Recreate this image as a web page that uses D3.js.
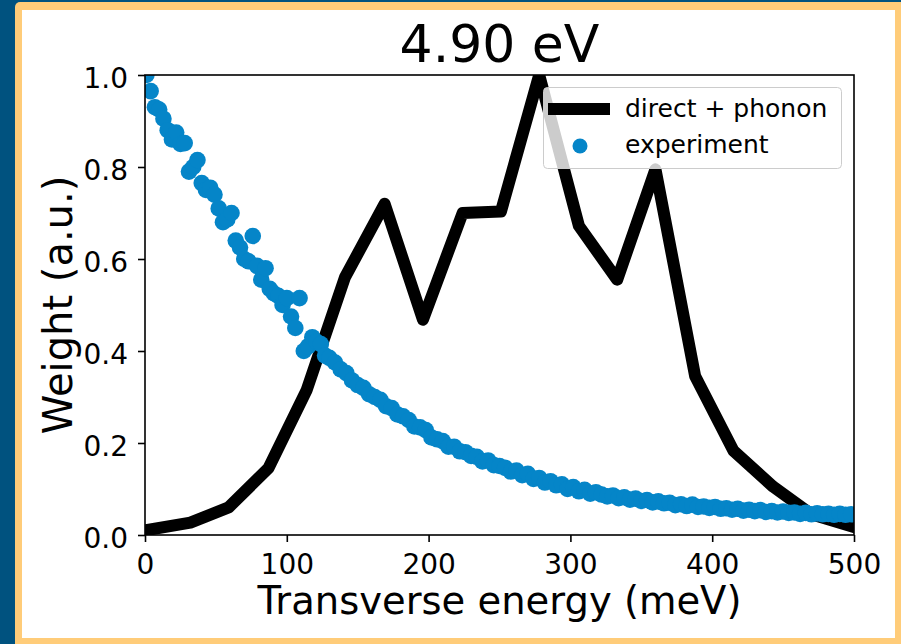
<!DOCTYPE html>
<html>
<head>
<meta charset="utf-8">
<script src="https://cdn.jsdelivr.net/npm/d3@7"></script>
<style>
    body { margin: 0; background: #00527f; }
    text { font-family: "DejaVu Sans", sans-serif; fill: #000; }
</style>
</head>
<body>
<div id="first_fig"></div>
<script>
// Chart data
var titleText = "4.90 eV";
var xLabelText = "Transverse energy (meV)";
var yLabelText = "Weight (a.u.)";
var xTicks = [0, 100, 200, 300, 400, 500];
var yTicks = [0.0, 0.2, 0.4, 0.6, 0.8, 1.0];
var legendNames = ["direct + phonon", "experiment"];

// direct + phonon calculation
var theoryEnergy = [0, 32, 59, 87, 114, 141, 169, 196, 224, 251, 278, 306, 333, 360, 388, 415, 443, 470, 497];
var theoryWeight = [0.010, 0.027, 0.060, 0.145, 0.315, 0.560, 0.720, 0.468, 0.700, 0.703, 1.000, 0.672, 0.555, 0.795, 0.345, 0.183, 0.105, 0.045, 0.020];

// experiment
var expEnergy = [1, 4, 7, 10, 13, 16, 19, 22, 25, 28, 31, 34, 37, 40, 43, 46, 49, 52, 55, 58,
    61, 64, 67, 70, 73, 76, 79, 82, 85, 88, 91, 94, 97, 100, 103, 106, 109, 112, 115, 118,
    121, 124, 127, 130, 134, 138, 142, 146, 150, 154, 158, 162, 166, 170, 174, 178, 182, 186, 190, 194,
    198, 202, 206, 210, 214, 218, 222, 226, 230, 234, 238, 242, 246, 250, 254, 258, 262, 266, 270, 274,
    278, 282, 286, 290, 294, 298, 302, 306, 310, 314, 318, 322, 326, 330, 334, 338, 342, 346, 350, 354,
    358, 362, 366, 370, 374, 378, 382, 386, 390, 394, 398, 402, 406, 410, 414, 418, 422, 426, 430, 434,
    438, 442, 446, 450, 454, 458, 462, 466, 470, 474, 478, 482, 486, 490, 494, 498];
var expWeight = [1.000, 0.965, 0.930, 0.925, 0.905, 0.880, 0.860, 0.875, 0.850, 0.852, 0.790, 0.800, 0.815, 0.765, 0.750, 0.755, 0.740, 0.710, 0.680, 0.686,
    0.700, 0.640, 0.625, 0.600, 0.595, 0.650, 0.585, 0.555, 0.580, 0.535, 0.525, 0.520, 0.500, 0.515, 0.475, 0.450, 0.515, 0.400, 0.410, 0.430,
    0.420, 0.415, 0.390, 0.385, 0.375, 0.360, 0.352, 0.336, 0.326, 0.320, 0.306, 0.300, 0.294, 0.280, 0.276, 0.262, 0.258, 0.250, 0.236, 0.234,
    0.228, 0.212, 0.208, 0.204, 0.192, 0.192, 0.182, 0.180, 0.172, 0.170, 0.160, 0.162, 0.152, 0.150, 0.146, 0.138, 0.140, 0.130, 0.133, 0.122,
    0.124, 0.114, 0.117, 0.108, 0.110, 0.100, 0.104, 0.095, 0.098, 0.090, 0.093, 0.088, 0.084, 0.086, 0.080, 0.082, 0.077, 0.079, 0.074, 0.076,
    0.071, 0.073, 0.069, 0.070, 0.065, 0.067, 0.063, 0.066, 0.061, 0.062, 0.059, 0.061, 0.057, 0.058, 0.055, 0.057, 0.053, 0.055, 0.052, 0.054,
    0.050, 0.052, 0.049, 0.051, 0.048, 0.049, 0.046, 0.048, 0.045, 0.047, 0.045, 0.046, 0.044, 0.046, 0.044, 0.045];

(function (d3) {
    "use strict";

    var dataviz = d3.select("#first_fig");

    var W = 901, H = 644;
    var margin = { top: 75, right: 47, bottom: 109, left: 145 };
    var width = W - margin.left - margin.right;
    var height = H - margin.top - margin.bottom;

    var blue = "#0585c8";

    var svg = dataviz.append("svg")
        .attr("width", W)
        .attr("height", H)
        .style("display", "block");

    // -----------------------------------------------------------------------
    // ------------------------------ Frame ----------------------------------
    // -----------------------------------------------------------------------
    svg.append("rect").attr("width", W).attr("height", H).attr("fill", "#00527f");
    svg.append("rect")
        .attr("x", 15).attr("y", 2)
        .attr("width", W - 15 + 10).attr("height", H - 2 + 10)
        .attr("rx", 5)
        .attr("fill", "#ffcc79");
    svg.append("rect")
        .attr("x", 22).attr("y", 10)
        .attr("width", 873).attr("height", 628)
        .attr("fill", "#ffffff");

    // Graph Group
    var g = svg.append("g")
        .attr("transform", "translate(" + margin.left + "," + margin.top + ")");

    // -----------------------------------------------------------------------
    // ------------------------------ Scales ---------------------------------
    // -----------------------------------------------------------------------
    var xScale = d3.scaleLinear().domain([0, 500]).range([0, width]);
    var yScale = d3.scaleLinear().domain([0, 1]).range([height, 0]);

    g.append("clipPath").attr("id", "plot-clip")
        .append("rect").attr("width", width).attr("height", height);

    // -----------------------------------------------------------------------
    // ---------------------------- Draw Graph -------------------------------
    // -----------------------------------------------------------------------
    var theory = theoryEnergy.map(function (e, i) { return { x: e, y: theoryWeight[i] }; });
    var experiment = expEnergy.map(function (e, i) { return { x: e, y: expWeight[i] }; });

    var line = d3.line()
        .x(function (d) { return xScale(d.x); })
        .y(function (d) { return yScale(d.y); });

    var plot = g.append("g").attr("clip-path", "url(#plot-clip)");

    plot.append("path")
        .datum(theory)
        .attr("class", "line")
        .attr("fill", "none")
        .attr("stroke", "#000")
        .attr("stroke-width", 12)
        .attr("stroke-linejoin", "round")
        .attr("stroke-linecap", "square")
        .attr("d", line);

    plot.selectAll("circle.exp")
        .data(experiment)
        .enter().append("circle")
        .attr("class", "exp")
        .attr("cx", function (d) { return xScale(d.x); })
        .attr("cy", function (d) { return yScale(d.y); })
        .attr("r", 8.3)
        .attr("fill", blue);

    // -----------------------------------------------------------------------
    // ------------------------------- Axes ----------------------------------
    // -----------------------------------------------------------------------
    var xAxis = d3.axisBottom(xScale).tickValues(xTicks).tickSize(7).tickPadding(12)
        .tickFormat(d3.format("d"));
    var yAxis = d3.axisLeft(yScale).tickValues(yTicks).tickSize(7).tickPadding(10)
        .tickFormat(d3.format(".1f"));

    var gx = g.append("g")
        .attr("class", "x axis")
        .attr("transform", "translate(0," + height + ")")
        .call(xAxis);
    var gy = g.append("g")
        .attr("class", "y axis")
        .call(yAxis);

    [gx, gy].forEach(function (ax) {
        ax.attr("font-family", null).attr("font-size", null);
        ax.select(".domain").remove();
        ax.selectAll(".tick line").attr("stroke", "#000").attr("stroke-width", 1.6);
        ax.selectAll(".tick text")
            .style("font-family", "'DejaVu Sans', sans-serif")
            .style("font-size", "28px")
            .attr("fill", "#000");
    });
    gy.selectAll(".tick text").attr("dy", "0.43em");

    // spines
    g.append("rect")
        .attr("width", width).attr("height", height)
        .attr("fill", "none")
        .attr("stroke", "#000")
        .attr("stroke-width", 1.6);

    // -----------------------------------------------------------------------
    // ---------------------------- Labels -----------------------------------
    // -----------------------------------------------------------------------
    svg.append("text")
        .attr("x", margin.left + width / 2).attr("y", 62)
        .attr("text-anchor", "middle")
        .style("font-size", "52px")
        .text(titleText);

    svg.append("text")
        .attr("x", margin.left + width / 2).attr("y", 614)
        .attr("text-anchor", "middle")
        .style("font-size", "38.5px")
        .text(xLabelText);

    svg.append("text")
        .attr("transform", "translate(" + 72 + "," + (margin.top + height / 2) + ")rotate(-90)")
        .attr("text-anchor", "middle")
        .style("font-size", "40px")
        .text(yLabelText);

    // -----------------------------------------------------------------------
    // ---------------------------- Legend -----------------------------------
    // -----------------------------------------------------------------------
    var lg = svg.append("g").attr("class", "legend");
    lg.append("rect")
        .attr("x", 543.5).attr("y", 87.5)
        .attr("width", 298).attr("height", 81)
        .attr("rx", 4)
        .attr("fill", "#fff").attr("fill-opacity", 0.8)
        .attr("stroke", "#cccccc").attr("stroke-width", 1);

    lg.append("line")
        .attr("x1", 554).attr("x2", 604)
        .attr("y1", 109).attr("y2", 109)
        .attr("stroke", "#000").attr("stroke-width", 12)
        .attr("stroke-linecap", "square");

    lg.append("circle")
        .attr("cx", 580).attr("cy", 146)
        .attr("r", 7.5)
        .attr("fill", blue);

    lg.selectAll("text.leg")
        .data(legendNames)
        .enter().append("text")
        .attr("class", "leg")
        .attr("x", 625)
        .attr("y", function (d, i) { return 117 + i * 36; })
        .style("font-size", "25px")
        .text(function (d) { return d; });

})(d3);
</script>
</body>
</html>
